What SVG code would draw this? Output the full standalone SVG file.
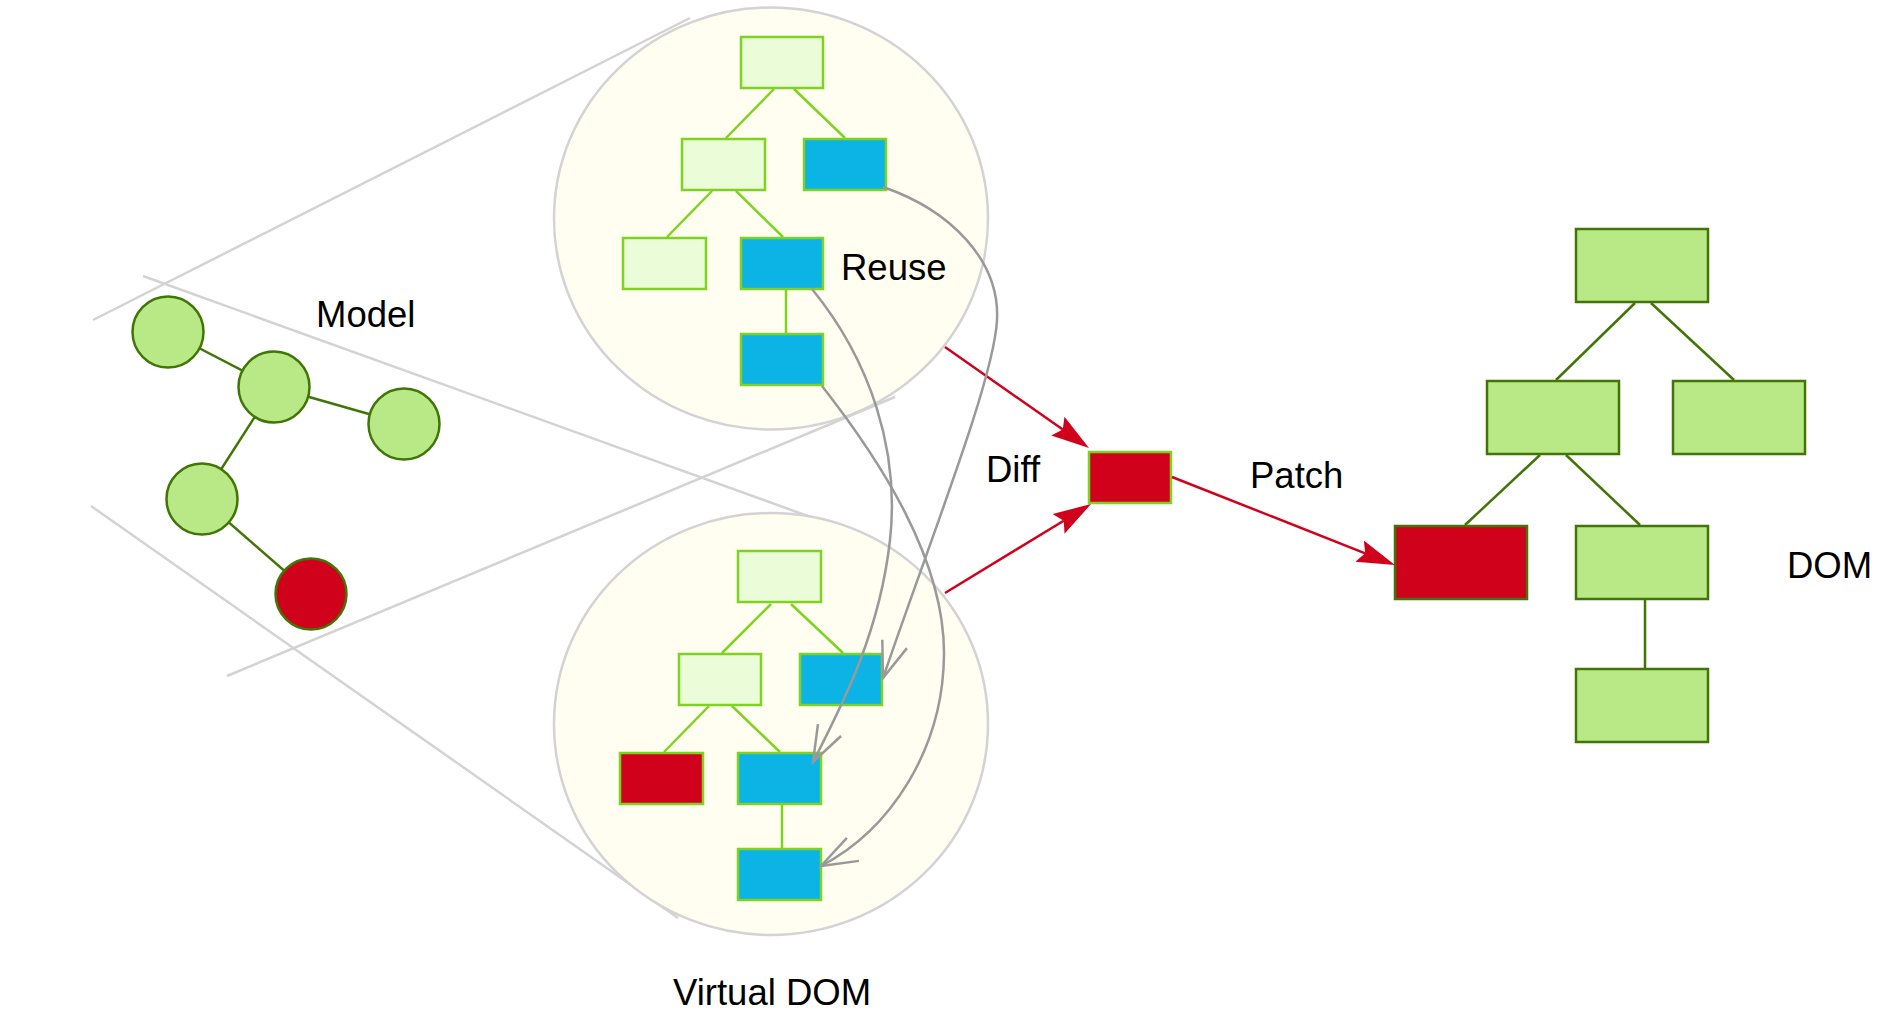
<svg xmlns="http://www.w3.org/2000/svg" width="1902" height="1032" viewBox="0 0 1902 1032">
  <style>
    .guide { stroke: #d3d3d3; stroke-width: 2.5; fill: none; }
    .scope { fill: #fffef0; stroke: #d3d3d3; stroke-width: 2.5; }
    .vlink { stroke: #7ed321; stroke-width: 2.5; }
    .vnode { fill: #ebfcd9; stroke: #7ed321; stroke-width: 2.5; }
    .vreuse { fill: #0cb3e5; stroke: #7ed321; stroke-width: 2.5; }
    .vchange { fill: #d0021b; stroke: #7ed321; stroke-width: 2.5; }
    .dlink { stroke: #417505; stroke-width: 2.5; }
    .dnode { fill: #b8e986; stroke: #417505; stroke-width: 2.5; }
    .dchange { fill: #d0021b; stroke: #417505; stroke-width: 2.5; }
    .flow { stroke: #d0021b; stroke-width: 2.5; fill: none; marker-end: url(#solidHead); }
    .reuse { stroke: #999999; stroke-width: 2.5; fill: none; marker-end: url(#openHead); }
    .label { font-family: "Liberation Sans", Arial, Helvetica, sans-serif; font-size: 36.5px; fill: #000000; }
  </style>
  <defs>
    <marker id="solidHead" markerUnits="userSpaceOnUse" markerWidth="40" markerHeight="26" viewBox="0 -13 40 26" refX="6" refY="0" orient="auto">
      <path d="M0,-11.5 L38,0 L0,11.5 L6,0 Z" fill="#d0021b"/>
    </marker>
    <marker id="openHead" markerUnits="userSpaceOnUse" markerWidth="44" markerHeight="34" viewBox="-40 -17 44 34" refX="0" refY="0" orient="auto">
      <path d="M-36,-13 L0,0 L-36,13" fill="none" stroke="#999999" stroke-width="2.5"/>
    </marker>
  </defs>

  <rect width="1902" height="1032" fill="#ffffff"/>

  <!-- perspective guides from the model to both virtual trees -->
  <g id="guides">
    <line class="guide" x1="93" y1="320" x2="690" y2="18"/>
    <line class="guide" x1="143" y1="276" x2="830" y2="524"/>
    <line class="guide" x1="227" y1="676" x2="895" y2="397"/>
    <line class="guide" x1="91" y1="506" x2="678" y2="918"/>
  </g>

  <!-- model graph -->
  <g id="model">
    <g id="model-links">
      <line class="dlink" x1="168" y1="332" x2="274" y2="387"/>
      <line class="dlink" x1="274" y1="387" x2="404" y2="424"/>
      <line class="dlink" x1="274" y1="387" x2="202" y2="499"/>
      <line class="dlink" x1="202" y1="499" x2="311" y2="594"/>
    </g>
    <circle id="m1" class="dnode" cx="168" cy="332" r="35.5"/>
    <circle id="m2" class="dnode" cx="274" cy="387" r="35.5"/>
    <circle id="m3" class="dnode" cx="404" cy="424" r="35.5"/>
    <circle id="m4" class="dnode" cx="202" cy="499" r="35.5"/>
    <circle id="m5" class="dchange" cx="311" cy="594" r="35.5"/>
    <text class="label" x="316" y="327">Model</text>
  </g>

  <!-- previous virtual tree -->
  <g id="vdom-old">
    <ellipse class="scope" cx="771" cy="218.5" rx="217" ry="211"/>
    <g id="vdom-old-links">
      <line class="vlink" x1="774" y1="89" x2="726" y2="138"/>
      <line class="vlink" x1="794" y1="89" x2="845" y2="138"/>
      <line class="vlink" x1="712" y1="191" x2="667" y2="237"/>
      <line class="vlink" x1="736" y1="191" x2="783" y2="237"/>
      <line class="vlink" x1="786" y1="290" x2="786" y2="333"/>
    </g>
    <rect id="u0" class="vnode" x="741" y="37" width="82" height="51"/>
    <rect id="u1" class="vnode" x="682" y="139" width="83" height="51"/>
    <rect id="u2" class="vreuse" x="804" y="139" width="82" height="51"/>
    <rect id="u3" class="vnode" x="623" y="238" width="83" height="51"/>
    <rect id="u4" class="vreuse" x="741" y="238" width="82" height="51"/>
    <rect id="u5" class="vreuse" x="741" y="334" width="82" height="51"/>
    <text class="label" x="841" y="280">Reuse</text>
  </g>

  <!-- new virtual tree -->
  <g id="vdom-new">
    <ellipse class="scope" cx="771" cy="724" rx="217" ry="211"/>
    <g id="vdom-new-links">
      <line class="vlink" x1="771" y1="604" x2="722" y2="653"/>
      <line class="vlink" x1="791" y1="604" x2="843" y2="653"/>
      <line class="vlink" x1="709" y1="706" x2="664" y2="752"/>
      <line class="vlink" x1="732" y1="706" x2="780" y2="752"/>
      <line class="vlink" x1="782" y1="805" x2="782" y2="848"/>
    </g>
    <rect id="l0" class="vnode" x="738" y="551" width="83" height="51"/>
    <rect id="l1" class="vnode" x="679" y="654" width="82" height="51"/>
    <rect id="l2" class="vreuse" x="800" y="654" width="82" height="51"/>
    <rect id="l3" class="vchange" x="620" y="753" width="83" height="51"/>
    <rect id="l4" class="vreuse" x="738" y="753" width="83" height="51"/>
    <rect id="l5" class="vreuse" x="738" y="849" width="83" height="51"/>
    <text class="label" x="673" y="1005">Virtual DOM</text>
  </g>

  <!-- computed patch -->
  <g id="patch">
    <rect class="vchange" x="1089" y="452" width="82" height="51"/>
    <text class="label" x="986" y="482">Diff</text>
    <text class="label" x="1250" y="488">Patch</text>
  </g>

  <!-- real DOM tree -->
  <g id="dom">
    <g id="dom-links">
      <line class="dlink" x1="1635" y1="303" x2="1556" y2="380"/>
      <line class="dlink" x1="1651" y1="303" x2="1734" y2="380"/>
      <line class="dlink" x1="1540" y1="455" x2="1465" y2="525"/>
      <line class="dlink" x1="1566" y1="455" x2="1640" y2="525"/>
      <line class="dlink" x1="1645" y1="600" x2="1645" y2="668"/>
    </g>
    <rect id="d0" class="dnode" x="1576" y="229" width="132" height="73"/>
    <rect id="d1" class="dnode" x="1487" y="381" width="132" height="73"/>
    <rect id="d2" class="dnode" x="1673" y="381" width="132" height="73"/>
    <rect id="d3" class="dchange" x="1395" y="526" width="132" height="73"/>
    <rect id="d4" class="dnode" x="1576" y="526" width="132" height="73"/>
    <rect id="d5" class="dnode" x="1576" y="669" width="132" height="73"/>
    <text class="label" x="1787" y="578">DOM</text>
  </g>

  <!-- connectors -->
  <g id="connectors">
    <line class="flow" x1="945" y1="347" x2="1062.8" y2="429.6"/>
    <line class="flow" x1="945" y1="593" x2="1063.7" y2="520.7"/>
    <line class="flow" x1="1172" y1="477" x2="1365.2" y2="553.3"/>
    <path class="reuse" d="M883,187 C950,210 1000,260 997,320 C994,380 930,540 883,678"/>
    <path class="reuse" d="M812,289 C870,360 900,450 890,540 C880,630 845,700 813,762"/>
    <path class="reuse" d="M822,386 C880,460 945,560 944,655 C943,750 890,830 821,866"/>
  </g>
</svg>
